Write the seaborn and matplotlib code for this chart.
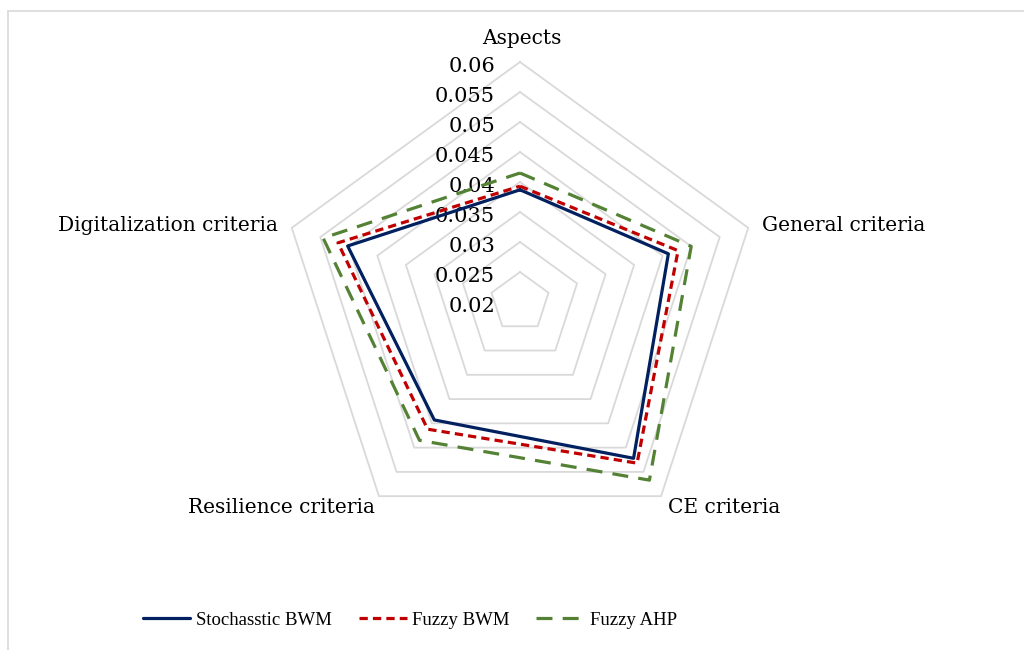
import numpy as np
import pandas as pd
import matplotlib
matplotlib.use("Agg")
import matplotlib.pyplot as plt
from matplotlib.lines import Line2D
import seaborn as sns

# chart data
categories = ['Aspects', 'General criteria', 'CE criteria',
              'Resilience criteria', 'Digitalization criteria']
stochastic_bwm = [0.0387, 0.0460, 0.0522, 0.0443, 0.0502]
fuzzy_bwm = [0.0393, 0.0477, 0.0532, 0.0462, 0.0519]
fuzzy_ahp = [0.0415, 0.0500, 0.0567, 0.0485, 0.0545]
series_names = ['Stochasstic BWM', 'Fuzzy BWM', 'Fuzzy AHP']
ticks = [0.02, 0.025, 0.03, 0.035, 0.04, 0.045, 0.05, 0.055, 0.06]
r_min, r_max = 0.02, 0.06

sns.set_theme(style='white')
plt.rcParams['font.family'] = ['DejaVu Serif']
plt.rcParams['text.color'] = 'black'

colors = {'Stochasstic BWM': '#002060', 'Fuzzy BWM': '#C00000', 'Fuzzy AHP': '#548235'}
dashes = {'Stochasstic BWM': '', 'Fuzzy BWM': (2.6, 1.6), 'Fuzzy AHP': (5.0, 3.2)}

n = len(categories)
angles = np.deg2rad(90 - 72 * np.arange(n))


def to_xy(values):
    r = (np.asarray(values) - r_min) / (r_max - r_min)
    return r * np.cos(angles), r * np.sin(angles)


# long table, closing each polygon by repeating the first point
rows = []
for name, vals in zip(series_names, [stochastic_bwm, fuzzy_bwm, fuzzy_ahp]):
    x, y = to_xy(vals)
    for i in list(range(n)) + [0]:
        rows.append({'x': x[i], 'y': y[i], 'method': name})
df = pd.DataFrame(rows)

fig = plt.figure(figsize=(10.24, 6.5), dpi=100)
ax = fig.add_axes([0, 0, 1, 1])
PX = 240.0  # pixels per unit radius
ax.set_xlim(-520 / PX, 504 / PX)
ax.set_ylim(-348 / PX, 302 / PX)
ax.axis('off')

sns.lineplot(data=df, x='x', y='y', hue='method', style='method',
             hue_order=series_names, style_order=series_names,
             palette=colors, dashes=dashes, sort=False, estimator=None,
             linewidth=2.3, legend=False, ax=ax, zorder=3)
handles = ax.get_lines()[:3]

# pentagon grid
for t in ticks[1:]:
    gx, gy = to_xy([t] * n)
    ax.plot(np.append(gx, gx[0]), np.append(gy, gy[0]),
            color='#D9D9D9', lw=1.3, zorder=1)

# radial tick labels
for t in ticks:
    r = (t - r_min) / (r_max - r_min)
    ax.text(-25 / PX, r - 4 / PX, f'{t:g}', ha='right', va='center',
            fontsize=15, color='black', zorder=2)

# category labels
offsets = [(2, 24, 'center'), (14, 2, 'left'), (7, -11, 'left'),
           (-4, -11, 'right'), (-14, 2, 'right')]
for ang, cat, (dx, dy, ha) in zip(angles, categories, offsets):
    ax.text(np.cos(ang) + dx / PX, np.sin(ang) + dy / PX, cat,
            ha=ha, va='center', fontsize=14.5, color='black')

leg = fig.legend(handles, series_names, loc='center', bbox_to_anchor=(0.40, 0.046),
                 ncol=3, frameon=False, handlelength=2.55, handletextpad=0.28,
                 columnspacing=1.45,
                 prop={'family': ['Liberation Serif'], 'size': 13.5})
for txt in leg.get_texts():
    txt.set_color('black')

# chart frame (only top and left edges are visible)
fig.add_artist(Line2D([7.5 / 1024, 1], [1 - 10.5 / 650] * 2,
                      transform=fig.transFigure, color='#D9D9D9', lw=1.2))
fig.add_artist(Line2D([7.5 / 1024] * 2, [0, 1 - 10.5 / 650],
                      transform=fig.transFigure, color='#D9D9D9', lw=1.2))

fig.savefig('out.png', dpi=100)
